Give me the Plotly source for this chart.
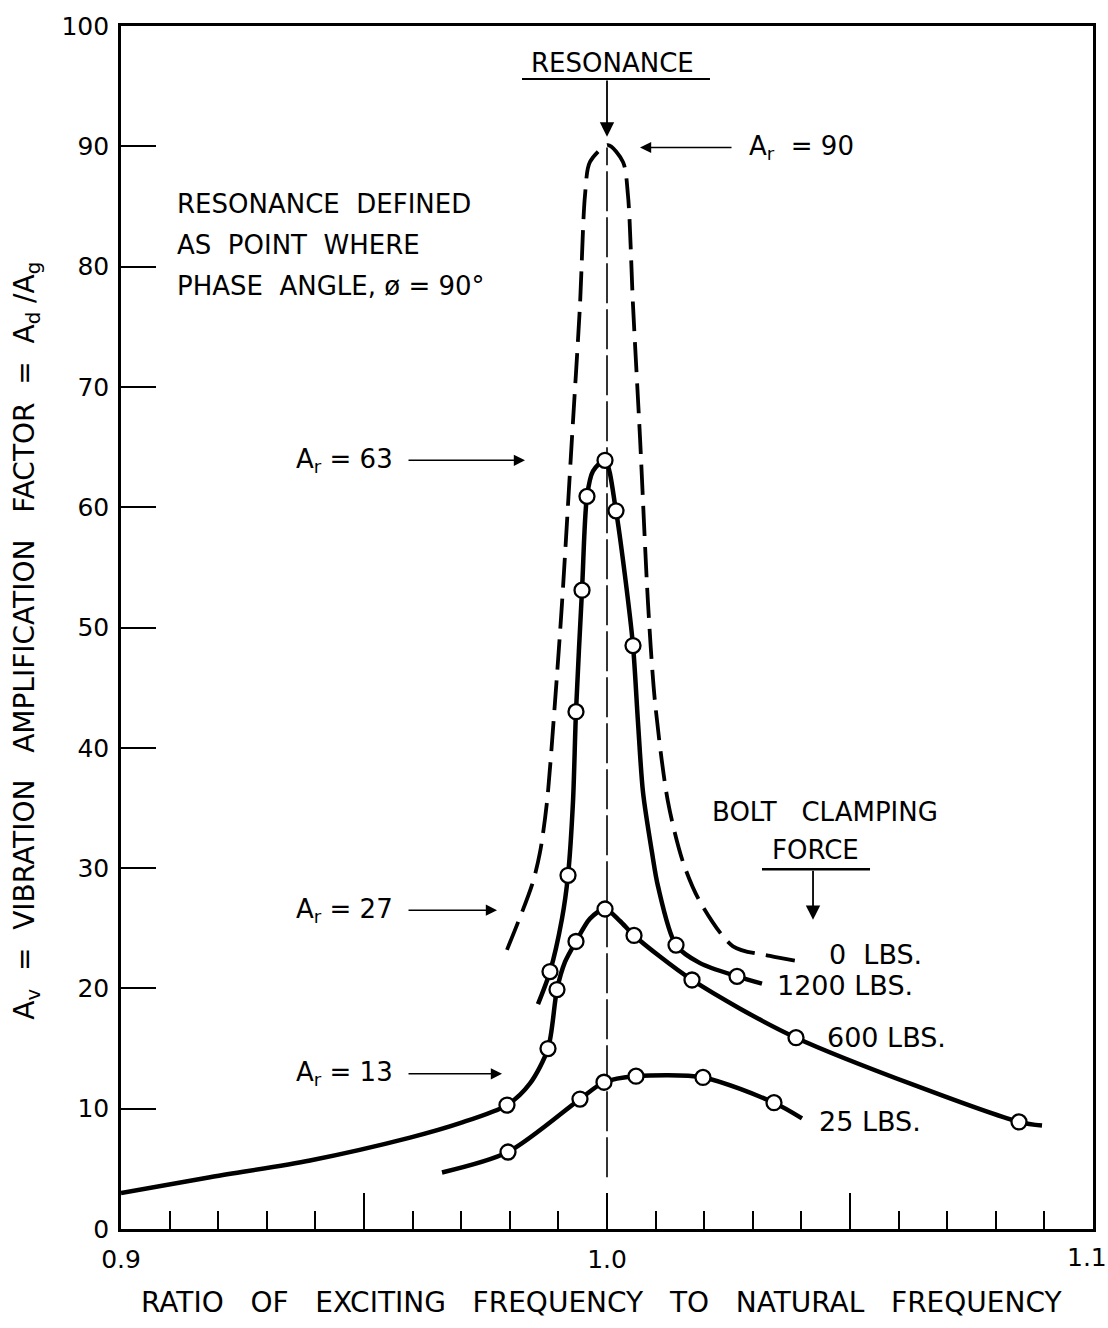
import plotly.graph_objects as go

FONT = "DejaVu Sans"
NB = "\u00a0"

# ---------------- data ----------------
# 0 LBS clamping force : dashed curve, no test points
lbs0_x = [0.97942, 0.98457, 0.98621, 0.98765, 0.98930, 0.99074, 0.99280, 0.99444, 0.99547,
          0.99650, 1.00021, 1.00329,
          1.00432, 1.00535, 1.00679, 1.00844, 1.00988, 1.01255, 1.01564,
          1.01914, 1.02593, 1.03354, 1.04033]
lbs0_y = [23.2, 28.6, 31.3, 35.5, 43.8, 52.0, 65.8, 76.8, 85.9,
          88.7, 90.1, 88.7,
          85.9, 76.8, 65.8, 52.0, 43.8, 35.5, 30.5,
          27.2, 23.5, 22.7, 22.2]

# 1200 LBS : faired curve and test points
lbs1200_curve_x = [0.98580, 0.98827, 0.99074, 0.99198, 0.99300, 0.99362, 0.99486, 0.99588,
                   0.99712, 0.99959, 1.00185, 1.00370, 1.00535, 1.00638, 1.00741, 1.00926,
                   1.01049, 1.01420, 1.01914, 1.02675, 1.03189]
lbs1200_curve_y = [18.7, 21.4, 25.8, 29.4, 35.5, 43.0, 53.1, 60.9,
                   63.0, 63.9, 59.7, 54.3, 48.5, 42.1, 36.3, 31.3,
                   28.5, 23.6, 22.1, 21.0, 20.4]
lbs1200_pts_x = [0.98827, 0.99198, 0.99362, 0.99486, 0.99588, 0.99959, 1.00185, 1.00535, 1.01420, 1.02675]
lbs1200_pts_y = [21.4, 29.4, 43.0, 53.1, 60.9, 63.9, 59.7, 48.5, 23.6, 21.0]

# 600 LBS
lbs600_curve_x = [0.9, 0.91831, 0.93889, 0.95947, 0.96975, 0.97942, 0.98416, 0.98786, 0.98971,
                  0.99136, 0.99362, 0.99650, 0.99959, 1.00267, 1.00556, 1.01749, 1.03889,
                  1.08477, 1.08951]
lbs600_curve_y = [3.0, 4.3, 5.7, 7.6, 8.8, 10.3, 12.1, 15.0, 19.9,
                  22.2, 23.9, 25.8, 26.6, 25.6, 24.4, 20.7, 15.9,
                  8.9, 8.6]
lbs600_pts_x = [0.97942, 0.98786, 0.98971, 0.99362, 0.99959, 1.00556, 1.01749, 1.03889, 1.08477]
lbs600_pts_y = [10.3, 15.0, 19.9, 23.9, 26.6, 24.4, 20.7, 15.9, 8.9]

# 25 LBS
lbs25_curve_x = [0.96605, 0.97963, 0.99444, 0.99938, 1.00597, 1.01975, 1.03436, 1.04012]
lbs25_curve_y = [4.7, 6.4, 10.8, 12.2, 12.7, 12.6, 10.5, 9.2]
lbs25_pts_x = [0.97963, 0.99444, 0.99938, 1.00597, 1.01975, 1.03436]
lbs25_pts_y = [6.4, 10.8, 12.2, 12.7, 12.6, 10.5]

# resonance reference line (ratio = 1.0)
resonance_x = [1.0, 1.0]
resonance_y = [4.3, 89.9]

# axis ticks (the last label, 1.1, sits at the very edge of the page and is drawn
# as an annotation so that it is not clipped)
x_range = [0.9, 1.1]
x_tickvals = [0.9, 0.95, 1.0, 1.05, 1.1]
x_ticktext = ["0.9", "", "1.0", "", ""]
x_edge_label = "1.1"
x_edge_label_pos = 1.0988
y_tickvals = [0, 10, 20, 30, 40, 50, 60, 70, 80, 90, 100]
y_ticktext = ["0", "10", "20", "30", "40", "50", "60", "70", "80", "90", "100"]

# resonance amplitude labels
ar_labels = ["A<sub>r</sub>" + NB + "=" + NB + "63",
             "A<sub>r</sub>" + NB + "=" + NB + "27",
             "A<sub>r</sub>" + NB + "=" + NB + "13"]
ar_y = [63.9, 26.5, 12.9]
ar_tail_x = [0.95885, 0.95885, 0.95885]
ar_tip_x = [0.98313, 0.97737, 0.97840]

# curve end labels
end_labels = ["0" + NB + NB + "LBS.", "1200" + NB + "LBS.", "600" + NB + "LBS.", "25" + NB + "LBS."]
end_x = [1.04527, 1.03457, 1.04486, 1.04321]
end_y = [22.8, 20.2, 15.9, 8.9]

note_lines = ["RESONANCE" + NB * 2 + "DEFINED",
              "AS" + NB * 2 + "POINT" + NB * 2 + "WHERE",
              "PHASE" + NB * 2 + "ANGLE," + NB + "\u00f8" + NB + "=" + NB + "90\u00b0"]
note_y = [85.2, 81.8, 78.4]

# ---------------- figure ----------------
fig = go.Figure()

LINE_W = 4.5
SMOOTH = 0.8

fig.add_trace(go.Scatter(x=resonance_x, y=resonance_y, mode="lines",
                         line=dict(color="black", width=1.6, dash="40px,6px"),
                         hoverinfo="skip", showlegend=False))

fig.add_trace(go.Scatter(x=lbs0_x, y=lbs0_y, mode="lines",
                         line=dict(color="black", width=3.8, dash="30px,11px",
                                   shape="spline", smoothing=SMOOTH),
                         showlegend=False))

for cx, cy in [(lbs1200_curve_x, lbs1200_curve_y), (lbs600_curve_x, lbs600_curve_y),
               (lbs25_curve_x, lbs25_curve_y)]:
    fig.add_trace(go.Scatter(x=cx, y=cy, mode="lines",
                             line=dict(color="black", width=LINE_W, shape="spline",
                                       smoothing=SMOOTH),
                             showlegend=False))

for px, py in [(lbs1200_pts_x, lbs1200_pts_y), (lbs600_pts_x, lbs600_pts_y),
               (lbs25_pts_x, lbs25_pts_y)]:
    fig.add_trace(go.Scatter(x=px, y=py, mode="markers",
                             marker=dict(symbol="circle", size=15, color="white",
                                         line=dict(color="black", width=2.3)),
                             showlegend=False))

ann = []
TF = dict(family=FONT, size=26, color="black")

# edge tick label
ann.append(dict(x=x_edge_label_pos, y=-0.0235, xref="x", yref="paper", text=x_edge_label,
                showarrow=False, font=dict(family=FONT, size=25, color="black"),
                xanchor="center", yanchor="middle"))

# RESONANCE header with underline and arrow
ann.append(dict(x=1.00123, y=96.9, xref="x", yref="y", text="RESONANCE",
                showarrow=False, font=TF, xanchor="center", yanchor="middle"))
ann.append(dict(x=1.0, y=90.8, ax=1.0, ay=95.6, xref="x", yref="y", axref="x", ayref="y",
                text="", showarrow=True, arrowhead=2, arrowsize=1.6, arrowwidth=1.8,
                arrowcolor="black"))
ann.append(dict(x=1.00679, y=89.9, ax=1.02593, ay=89.9, xref="x", yref="y", axref="x",
                ayref="y", text="", showarrow=True, arrowhead=2, arrowsize=1.4,
                arrowwidth=1.6, arrowcolor="black"))
ann.append(dict(x=1.02881, y=89.9, xref="x", yref="y",
                text="A<sub>r</sub>" + NB + NB + "=" + NB + "90",
                showarrow=False, font=TF, xanchor="left", yanchor="middle"))

for t, yy, tx, hx in zip(ar_labels, ar_y, ar_tail_x, ar_tip_x):
    ann.append(dict(x=0.9563, y=yy, xref="x", yref="y", text=t, showarrow=False,
                    font=TF, xanchor="right", yanchor="middle"))
    ann.append(dict(x=hx, y=yy, ax=tx, ay=yy, xref="x", yref="y", axref="x", ayref="y",
                    text="", showarrow=True, arrowhead=2, arrowsize=1.4, arrowwidth=1.6,
                    arrowcolor="black"))

for t, yy in zip(note_lines, note_y):
    ann.append(dict(x=0.91111, y=yy, xref="x", yref="y", text=t, showarrow=False,
                    font=TF, xanchor="left", yanchor="middle"))

ann.append(dict(x=1.04486, y=34.7, xref="x", yref="y", text="BOLT" + NB * 3 + "CLAMPING",
                showarrow=False, font=TF, xanchor="center", yanchor="middle"))
ann.append(dict(x=1.04280, y=31.5, xref="x", yref="y", text="FORCE",
                showarrow=False, font=TF, xanchor="center", yanchor="middle"))
ann.append(dict(x=1.04239, y=25.7, ax=1.04239, ay=29.9, xref="x", yref="y", axref="x",
                ayref="y", text="", showarrow=True, arrowhead=2, arrowsize=1.6,
                arrowwidth=1.8, arrowcolor="black"))

EF = dict(family=FONT, size=27, color="black")
for t, xx, yy in zip(end_labels, end_x, end_y):
    ann.append(dict(x=xx, y=yy, xref="x", yref="y", text=t, showarrow=False,
                    font=EF, xanchor="left", yanchor="middle"))

# axis titles
GAP = NB * 3
ann.append(dict(x=0.495, y=-0.0612, xref="paper", yref="paper",
                text=GAP.join(["RATIO", "OF", "EXCITING", "FREQUENCY", "TO",
                               "NATURAL", "FREQUENCY"]),
                showarrow=False, font=dict(family=FONT, size=28, color="black"),
                xanchor="center", yanchor="middle"))
ann.append(dict(x=-0.0968, y=0.489, xref="paper", yref="paper", textangle=-90,
                text="A<sub>v</sub>" + NB * 2 + "=" + NB * 2 + "VIBRATION" + GAP + "AMPLIFICATION"
                     + GAP + "FACTOR" + NB * 2 + "=" + NB * 2 + "A<sub>d</sub>" + NB + "/A<sub>g</sub>",
                showarrow=False, font=dict(family=FONT, size=28, color="black"),
                xanchor="center", yanchor="middle"))

shapes = [
    dict(type="line", xref="x", yref="y", x0=0.98251, x1=1.02119, y0=95.6, y1=95.6,
         line=dict(color="black", width=2)),
    dict(type="line", xref="x", yref="y", x0=1.03189, x1=1.05412, y0=29.9, y1=29.9,
         line=dict(color="black", width=2.5)),
]

fig.update_layout(
    width=1108, height=1328,
    margin=dict(l=121, r=15, t=20, b=99),
    paper_bgcolor="white", plot_bgcolor="white",
    font=dict(family=FONT, size=24, color="black"),
    annotations=ann, shapes=shapes, showlegend=False,
    xaxis=dict(range=x_range, tickvals=x_tickvals, ticktext=x_ticktext,
               ticks="inside", ticklen=36, tickwidth=2, tickcolor="black",
               minor=dict(dtick=0.01, tick0=0.9, ticks="inside", ticklen=18, tickwidth=2,
                          tickcolor="black", showgrid=False),
               showline=True, linewidth=2.6, linecolor="black", mirror=True,
               showgrid=False, zeroline=False, ticklabelstandoff=6,
               tickfont=dict(family=FONT, size=25, color="black")),
    yaxis=dict(range=[0, 100], tickvals=y_tickvals, ticktext=y_ticktext,
               ticks="inside", ticklen=35, tickwidth=2, tickcolor="black",
               showline=True, linewidth=2.6, linecolor="black", mirror=True,
               showgrid=False, zeroline=False, ticklabelstandoff=4,
               tickfont=dict(family=FONT, size=25, color="black")),
)

fig.write_html("out.html")
